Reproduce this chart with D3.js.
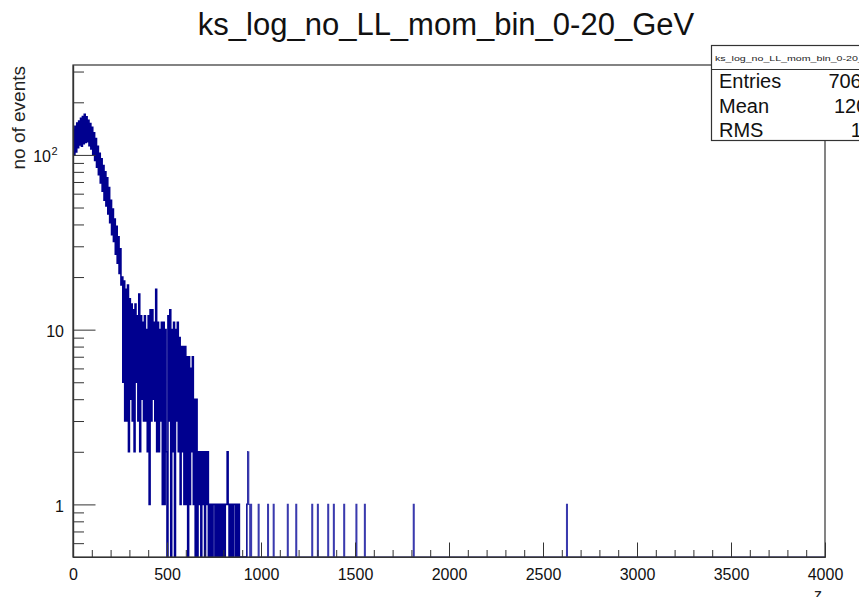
<!DOCTYPE html>
<html><head><meta charset="utf-8">
<script src="https://cdn.jsdelivr.net/npm/d3@7"></script>
<style>html,body{margin:0;padding:0;background:#fff;}svg{display:block;font-family:"Liberation Sans",Arial,Helvetica,sans-serif;}</style>
</head><body><svg id="c" width="859" height="597"></svg>
<script>
// ---- data ----
const chartTitle = "ks_log_no_LL_mom_bin_0-20_GeV";
const xTitle = "z";
const yTitle = "no of events";
const binWidth = 5;          // histogram bin width (z units)
const xRange = [0, 4000];
const yRange = [0.5, 327];
// bin contents for z = 0 .. 1000 (bins of width 5)
const counts = [
  140,100,146,104,152,110,156,114,162,112,
  166,116,171,118,165,119,158,113,151,108,
  144,101,134,93,124,85,112,77,102,69,
  95,62,87,55,80,51,74,46,65,41,
  55,35,49,32,43,27,39,24,34,21,
  29,18,20,5,19,3,17,3,18,2,
  15,4,14,3,13,2,14,5,12,3,
  16,2,12,4,11,3,12,3,10,2,
  12,1,13,3,13,4,11,3,17,2,
  11,2,10,3,11,1,11,1,10,2,
  0,12,3,13,0,10,2,11,0,10,
  3,11,2,9,1,8,2,8,1,8,
  1,7,0,7,1,6,2,7,1,4,
  0,4,0,2,1,2,0,2,1,2,
  0,2,1,2,0,1,0,1,0,1,
  1,0,1,0,1,0,1,0,1,0,
  1,0,1,1,2,1,0,1,0,1,
  0,1,1,0,1,0,1,0,0,0,
  0,0,0,0,0,1,2,1,0,1,
  0,0,0,0,0,0,0,1,0,0
];
// isolated entries in the tail (bin lower edge, content)
const tailX = [1035,1065,1140,1185,1270,1300,1355,1385,1440,1505,1550,1810,2625];
const tailCounts = [1,1,1,1,1,1,1,1,1,1,1,1,1];
const xMajorTicks = [0,500,1000,1500,2000,2500,3000,3500,4000];
const xMinorTicks = d3.range(0, 4001, 100);
const yMajorTicks = [1, 10, 100];
const yMinorTicks = [0.6,0.7,0.8,0.9,2,3,4,5,6,7,8,9,20,30,40,50,60,70,80,90,200,300];
const statsLabels = ["Entries", "Mean", "RMS"];
const statsValues = ["70633", "120.9", "105"];

// ---- drawing ----
const svg = d3.select("#c");
const L = 73, R = 825, T = 65, B = 557;
const x = d3.scaleLinear().domain(xRange).range([L, R]);
const y = d3.scaleLog().domain(yRange).range([B, T]).clamp(true);

const nBins = Math.round((xRange[1] - xRange[0]) / binWidth);
const bins = new Array(nBins).fill(0);
counts.forEach((c, i) => bins[i] = c);
tailX.forEach((t, k) => bins[Math.round(t / binWidth)] = tailCounts[k]);

const split = x(930); // dense part / sparse tail
const defs = svg.append("defs");
defs.append("clipPath").attr("id", "frA")
  .append("rect").attr("x", L).attr("y", T).attr("width", split - L).attr("height", B - T);
defs.append("clipPath").attr("id", "frB")
  .append("rect").attr("x", split).attr("y", T).attr("width", R - split).attr("height", B - T);

const pts = [];
bins.forEach((c, i) => {
  const v = c > 0 ? c : yRange[0];
  pts.push([x(i * binWidth), y(v)]);
  pts.push([x((i + 1) * binWidth), y(v)]);
});
const dPath = d3.line()(pts);
svg.append("path").attr("clip-path", "url(#frA)").attr("d", dPath)
  .attr("fill", "none").attr("stroke", "#00008f").attr("stroke-width", 1.6);
svg.append("path").attr("clip-path", "url(#frB)").attr("d", dPath)
  .attr("fill", "none").attr("stroke", "#3a3aae").attr("stroke-width", 1.1);

const axCol = "#333";
// frame
svg.append("rect").attr("x", L).attr("y", T).attr("width", R - L).attr("height", B - T)
  .attr("fill", "none").attr("stroke", axCol).attr("stroke-width", 1.2);

// x axis
const gx = svg.append("g").attr("transform", `translate(0,${B})`);
gx.call(d3.axisBottom(x).tickValues(xMinorTicks).tickSize(-7).tickSizeOuter(0).tickFormat(""));
const gx2 = svg.append("g").attr("transform", `translate(0,${B})`);
gx2.call(d3.axisBottom(x).tickValues(xMajorTicks).tickSize(-14.5).tickSizeOuter(0).tickPadding(11.5).tickFormat(d3.format("d")));
[gx, gx2].forEach(g => {
  g.select(".domain").attr("stroke", axCol).attr("stroke-width", 1.2);
  g.selectAll(".tick line").attr("stroke", axCol).attr("stroke-width", 1);
});
gx2.selectAll(".tick text").attr("font-size", 16).attr("fill", "#111")
  .attr("font-family", "Liberation Sans, Arial, sans-serif");

// y axis
const gy = svg.append("g").attr("transform", `translate(${L},0)`);
gy.call(d3.axisLeft(y).tickValues(yMinorTicks).tickSize(-11).tickSizeOuter(0).tickFormat(""));
const gy2 = svg.append("g").attr("transform", `translate(${L},0)`);
gy2.call(d3.axisLeft(y).tickValues(yMajorTicks).tickSize(-22.5).tickSizeOuter(0).tickFormat(""));
[gy, gy2].forEach(g => {
  g.select(".domain").attr("stroke", axCol).attr("stroke-width", 1.2);
  g.selectAll(".tick line").attr("stroke", axCol).attr("stroke-width", 1);
});
// y labels
yMajorTicks.forEach(v => {
  const t = svg.append("text").attr("font-size", 16).attr("fill", "#111")
    .attr("y", y(v) + 7.5);
  if (v >= 100) {
    const e = Math.round(Math.log10(v));
    t.attr("x", 51).attr("text-anchor", "end").text("10");
    svg.append("text").attr("font-size", 11).attr("fill", "#111")
      .attr("x", 51.5).attr("y", y(v) + 0.5).text(String(e));
  } else {
    t.attr("x", 64).attr("text-anchor", "end").text(String(v));
  }
});

// titles
svg.append("text").attr("x", 446).attr("y", 35).attr("text-anchor", "middle")
  .attr("font-size", 31).attr("fill", "#111").text(chartTitle);
svg.append("text").attr("transform", "translate(25,66) rotate(-90)")
  .attr("text-anchor", "end").attr("font-size", 19).attr("fill", "#222").text(yTitle);
svg.append("text").attr("x", 822).attr("y", 600).attr("text-anchor", "end")
  .attr("font-size", 16).attr("fill", "#222").text(xTitle);

// stats box
const sb = svg.append("g");
sb.append("rect").attr("x", 711.5).attr("y", 45.5).attr("width", 180).attr("height", 95)
  .attr("fill", "#fff").attr("stroke", axCol).attr("stroke-width", 1.2);
sb.append("line").attr("x1", 711.5).attr("x2", 892).attr("y1", 69.5).attr("y2", 69.5)
  .attr("stroke", axCol).attr("stroke-width", 1.2);
sb.append("text").attr("x", 715).attr("y", 61).attr("font-size", 8).attr("fill", "#222")
  .attr("textLength", 170).attr("lengthAdjust", "spacingAndGlyphs").text(chartTitle);
const rowY = [88, 113, 137];
statsLabels.forEach((s, k) => {
  sb.append("text").attr("x", 719).attr("y", rowY[k]).attr("font-size", 20).attr("fill", "#111").text(s);
  sb.append("text").attr("x", 884).attr("y", rowY[k]).attr("text-anchor", "end")
    .attr("font-size", 20).attr("fill", "#111").text(statsValues[k]);
});
</script></body></html>
